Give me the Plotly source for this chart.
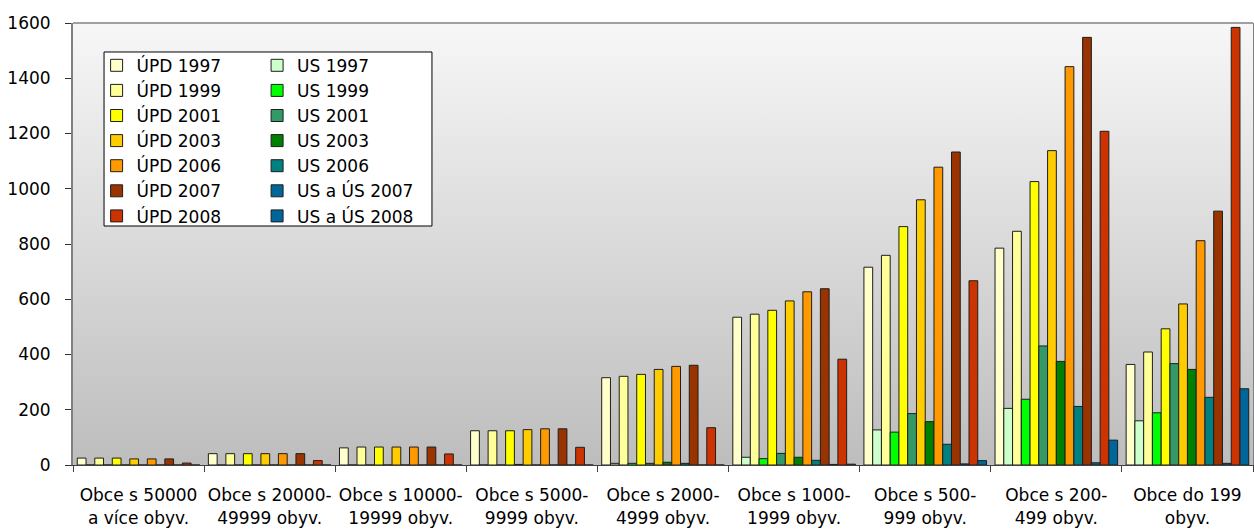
import base64
import plotly.graph_objects as go

categories = ["c50000", "c20000", "c10000", "c5000", "c2000", "c1000", "c500", "c200", "c199"]
tick_labels = [
    "Obce s 50000<br>a více obyv.",
    "Obce s 20000-<br>49999 obyv.",
    "Obce s 10000-<br>19999 obyv.",
    "Obce s 5000-<br>9999 obyv.",
    "Obce s 2000-<br>4999 obyv.",
    "Obce s 1000-<br>1999 obyv.",
    "Obce s 500-<br>999 obyv.",
    "Obce s 200-<br>499 obyv.",
    "Obce do 199<br>obyv.",
]

upd_1997 = [25, 41, 62, 124, 316, 535, 716, 785, 364]
upd_1999 = [25, 41, 65, 124, 321, 546, 759, 846, 409]
upd_2001 = [25, 41, 65, 124, 328, 560, 863, 1026, 493]
upd_2003 = [22, 41, 65, 128, 346, 594, 960, 1138, 583]
upd_2006 = [22, 41, 65, 131, 357, 627, 1078, 1442, 812]
upd_2007 = [22, 41, 65, 131, 361, 638, 1133, 1548, 919]
upd_2008 = [7, 16, 40, 64, 135, 383, 667, 1208, 1584]

us_1997 = [0, 0, 0, 0, 6, 28, 127, 205, 160]
us_1999 = [0, 0, 0, 0, 6, 23, 119, 238, 189]
us_2001 = [0, 0, 0, 2, 6, 42, 186, 431, 367]
us_2003 = [0, 0, 0, 0, 10, 28, 157, 375, 346]
us_2006 = [0, 0, 0, 0, 6, 17, 75, 212, 245]
us_us_2007 = [0, 0, 0, 0, 0, 2, 4, 8, 6]
us_us_2008 = [0, 0, 0, 0, 0, 3, 16, 90, 276]

series = [
    ("ÚPD 1997", upd_1997, "#FFFFCC", "legend"),
    ("US 1997", us_1997, "#CCFFCC", "legend2"),
    ("ÚPD 1999", upd_1999, "#FFFF99", "legend"),
    ("US 1999", us_1999, "#00FF00", "legend2"),
    ("ÚPD 2001", upd_2001, "#FFFF00", "legend"),
    ("US 2001", us_2001, "#339966", "legend2"),
    ("ÚPD 2003", upd_2003, "#FFCC00", "legend"),
    ("US 2003", us_2003, "#008000", "legend2"),
    ("ÚPD 2006", upd_2006, "#FF9900", "legend"),
    ("US 2006", us_2006, "#008080", "legend2"),
    ("ÚPD 2007", upd_2007, "#993300", "legend"),
    ("US a ÚS 2007", us_us_2007, "#00669A", "legend2"),
    ("ÚPD 2008", upd_2008, "#CC3300", "legend"),
    ("US a ÚS 2008", us_us_2008, "#006699", "legend2"),
]

FONT = "DejaVu Sans"

fig = go.Figure()
for name, vals, color, leg in series:
    fig.add_trace(go.Bar(
        name=name, x=categories, y=vals,
        marker=dict(color=color, line=dict(color="#1e1e1e", width=1)),
        legend=leg,
    ))

svg = ('<svg xmlns="http://www.w3.org/2000/svg" width="100" height="100" preserveAspectRatio="none">'
       '<defs><linearGradient id="g" x1="0" y1="0" x2="0" y2="1">'
       '<stop offset="0" stop-color="#f7f7f7"/><stop offset="1" stop-color="#bdbdbd"/>'
       '</linearGradient></defs><rect width="100" height="100" fill="url(#g)"/></svg>')
src = "data:image/svg+xml;base64," + base64.b64encode(svg.encode()).decode()

fig.update_layout(
    width=1254, height=531,
    margin=dict(l=73, r=1, t=23, b=66),
    paper_bgcolor="white",
    plot_bgcolor="rgba(0,0,0,0)",
    font=dict(family=FONT, size=17, color="black"),
    barmode="group",
    bargap=0.065,
    bargroupgap=0,
    images=[dict(source=src, xref="paper", yref="paper", x=0, y=1, sizex=1, sizey=1,
                 xanchor="left", yanchor="top", sizing="stretch", layer="below")],
    shapes=[
        dict(type="rect", xref="paper", yref="paper", x0=0.0263, x1=0.3042, y0=0.5407, y1=0.9344,
             fillcolor="white", line=dict(color="black", width=1), layer="above"),
        dict(type="line", xref="paper", yref="paper", x0=0, x1=1, y0=1, y1=1,
             line=dict(color="#a0a0a0", width=2), layer="above"),
    ],
    legend=dict(x=0.020, y=0.944, xanchor="left", yanchor="top", bgcolor="rgba(0,0,0,0)",
                borderwidth=0, font=dict(family=FONT, size=17), traceorder="normal"),
    legend2=dict(x=0.156, y=0.944, xanchor="left", yanchor="top", bgcolor="rgba(0,0,0,0)",
                 borderwidth=0, font=dict(family=FONT, size=17), traceorder="normal"),
    showlegend=True,
)

fig.update_xaxes(
    tickvals=categories, ticktext=tick_labels, tickangle=0,
    showline=True, linecolor="#404040", linewidth=1,
    ticks="outside", tickson="boundaries", ticklen=6, tickcolor="#404040",
    ticklabelstandoff=15, automargin=False,
    showgrid=False, zeroline=False,
)
fig.update_yaxes(
    range=[0, 1600], dtick=200, tick0=0,
    showline=True, linecolor="#808080", linewidth=2, mirror=True,
    ticks="outside", ticklen=6, tickcolor="#303030", ticklabelstandoff=11,
    automargin=False,
    showgrid=False, zeroline=False,
)

fig.write_html(
    "out.html",
    config={"displayModeBar": False},
    post_script="document.body.style.margin='0';document.body.style.padding='0';",
)
